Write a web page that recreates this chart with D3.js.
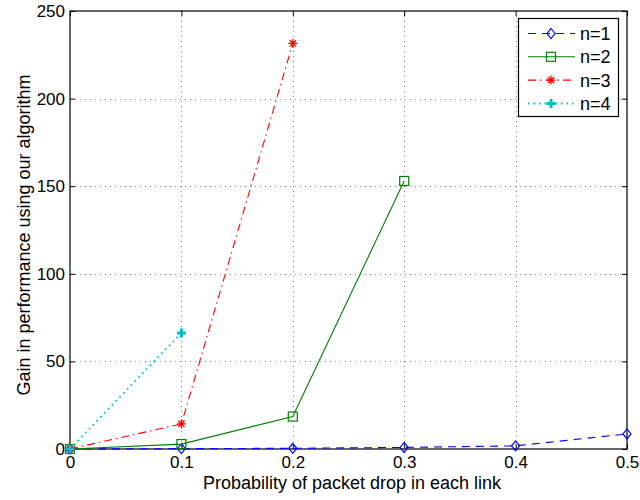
<!DOCTYPE html>
<html>
<head>
<meta charset="utf-8">
<script src="https://cdn.jsdelivr.net/npm/d3@7"></script>
<style>
  html, body { margin: 0; padding: 0; background: #fff; }
  svg { display: block; font-family: "Liberation Sans", Arial, Helvetica, sans-serif; }
</style>
</head>
<body>
<svg id="chart" width="640" height="500"></svg>
<script>
// Drop probability per link (x) and measured gain for each hop count n
const dropProb = [0, 0.1, 0.2, 0.3, 0.4, 0.5];
const gainN1 = [0, 0.2, 0.4, 0.9, 1.8, 8.6];
const gainN2 = [0, 2.8, 18.5, 153];
const gainN3 = [0, 14.3, 231.5];
const gainN4 = [0, 66.2];
const seriesNames = ["n=1", "n=2", "n=3", "n=4"];
const xTicks = [0, 0.1, 0.2, 0.3, 0.4, 0.5];
const yTicks = [0, 50, 100, 150, 200, 250];

const series = [
  { name: seriesNames[0], values: gainN1, color: "#0000ff", dash: "8,6", marker: "diamond" },
  { name: seriesNames[1], values: gainN2, color: "#008000", dash: null, marker: "square" },
  { name: seriesNames[2], values: gainN3, color: "#ff0000", dash: "8,4,1.5,4", marker: "star" },
  { name: seriesNames[3], values: gainN4, color: "#00bfbf", dash: "1.5,4", marker: "plus" }
];

const svg = d3.select("#chart");
const L = 70, R = 627, T = 11, B = 449;

const x = d3.scaleLinear().domain([0, 0.5]).range([L, R]);
const y = d3.scaleLinear().domain([0, 250]).range([B, T]);

// Grid lines (dotted)
const grid = svg.append("g").attr("stroke", "#888").attr("stroke-width", 1)
  .attr("stroke-dasharray", "1,4");
grid.selectAll(".gx").data(xTicks.slice(1, -1)).enter().append("line")
  .attr("x1", d => Math.round(x(d)) + 0.5).attr("x2", d => Math.round(x(d)) + 0.5)
  .attr("y1", T).attr("y2", B);
grid.selectAll(".gy").data(yTicks.slice(1, -1)).enter().append("line")
  .attr("y1", d => Math.round(y(d)) + 0.5).attr("y2", d => Math.round(y(d)) + 0.5)
  .attr("x1", L).attr("x2", R);

// Axes: ticks pointing inward, mirrored on top and right
const tickLen = 5;
const xAxis = d3.axisBottom(x).tickValues(xTicks).tickSize(-tickLen).tickPadding(7)
  .tickFormat(d => d === 0 ? "0" : d3.format(".1f")(d));
const yAxis = d3.axisLeft(y).tickValues(yTicks).tickSize(-tickLen).tickPadding(5);
const xTop = d3.axisTop(x).tickValues(xTicks).tickSize(-tickLen).tickFormat("");
const yRight = d3.axisRight(y).tickValues(yTicks).tickSize(-tickLen).tickFormat("");

function styleAxis(g) {
  g.select(".domain").remove();
  g.selectAll(".tick line").attr("stroke", "#000");
  g.selectAll(".tick text").attr("fill", "#000").attr("font-size", 17)
    .attr("font-family", "Liberation Sans, Arial, sans-serif");
}
svg.append("g").attr("transform", `translate(0,${B})`).call(xAxis).call(styleAxis);
svg.append("g").attr("transform", `translate(${L},0)`).call(yAxis).call(styleAxis);
svg.append("g").attr("transform", `translate(0,${T})`).call(xTop).call(styleAxis);
svg.append("g").attr("transform", `translate(${R},0)`).call(yRight).call(styleAxis);

// Axes box
svg.append("rect").attr("x", L).attr("y", T).attr("width", R - L).attr("height", B - T)
  .attr("fill", "none").attr("stroke", "#000").attr("stroke-width", 1.2);

// Markers
function drawMarker(g, type, cx, cy, color) {
  const s = 4.5;
  if (type === "diamond") {
    g.append("path").attr("d", `M${cx},${cy - s - 0.5}L${cx + s - 0.5},${cy}L${cx},${cy + s + 0.5}L${cx - s + 0.5},${cy}Z`)
      .attr("fill", "none").attr("stroke", color).attr("stroke-width", 1.2);
  } else if (type === "square") {
    g.append("rect").attr("x", cx - 4.5).attr("y", cy - 4.5).attr("width", 9).attr("height", 9)
      .attr("fill", "none").attr("stroke", color).attr("stroke-width", 1.2);
  } else if (type === "star") {
    const r = 4.5;
    const p = [];
    [0, 45, 90, 135].forEach(a => {
      const t = a * Math.PI / 180;
      p.push(`M${cx - r * Math.cos(t)},${cy - r * Math.sin(t)}L${cx + r * Math.cos(t)},${cy + r * Math.sin(t)}`);
    });
    g.append("path").attr("d", p.join("")).attr("stroke", color).attr("stroke-width", 1.3).attr("fill", "none");
  } else if (type === "plus") {
    g.append("path").attr("d", `M${cx - 4.5},${cy}L${cx + 4.5},${cy}M${cx},${cy - 4.5}L${cx},${cy + 4.5}`)
      .attr("stroke", color).attr("stroke-width", 3).attr("fill", "none");
  }
}

// Series lines and markers
const line = d3.line().x(d => x(d[0])).y(d => y(d[1]));
series.forEach(s => {
  const pts = s.values.map((v, i) => [dropProb[i], v]);
  const g = svg.append("g");
  g.append("path").attr("d", line(pts)).attr("fill", "none")
    .attr("stroke", s.color).attr("stroke-width", s.marker === "plus" ? 2 : 1.1)
    .attr("stroke-dasharray", s.dash);
  pts.forEach(p => drawMarker(g, s.marker, x(p[0]), y(p[1]), s.color));
});

// Axis labels
svg.append("text").attr("x", 352).attr("y", 489).attr("text-anchor", "middle")
  .attr("font-size", 18).attr("fill", "#000")
  .text("Probability of packet drop in each link");
svg.append("text").attr("transform", `translate(30,235) rotate(-90)`)
  .attr("text-anchor", "middle").attr("font-size", 18).attr("fill", "#000")
  .text("Gain in performance using our algorithm");

// Legend
const lg = svg.append("g");
lg.append("rect").attr("x", 518.5).attr("y", 18.5).attr("width", 100).attr("height", 98)
  .attr("fill", "#fff").attr("stroke", "#000").attr("stroke-width", 1.2);
series.forEach((s, i) => {
  const ly = 33.5 + i * 23.3;
  lg.append("line").attr("x1", 528).attr("x2", 575).attr("y1", ly).attr("y2", ly)
    .attr("stroke", s.color).attr("stroke-width", s.marker === "plus" ? 2 : 1.1)
    .attr("stroke-dasharray", s.dash);
  drawMarker(lg, s.marker, 551, ly, s.color);
  lg.append("text").attr("x", 580).attr("y", ly + 6.5).attr("font-size", 18)
    .attr("fill", "#000").text(s.name);
});
</script>
</body>
</html>
